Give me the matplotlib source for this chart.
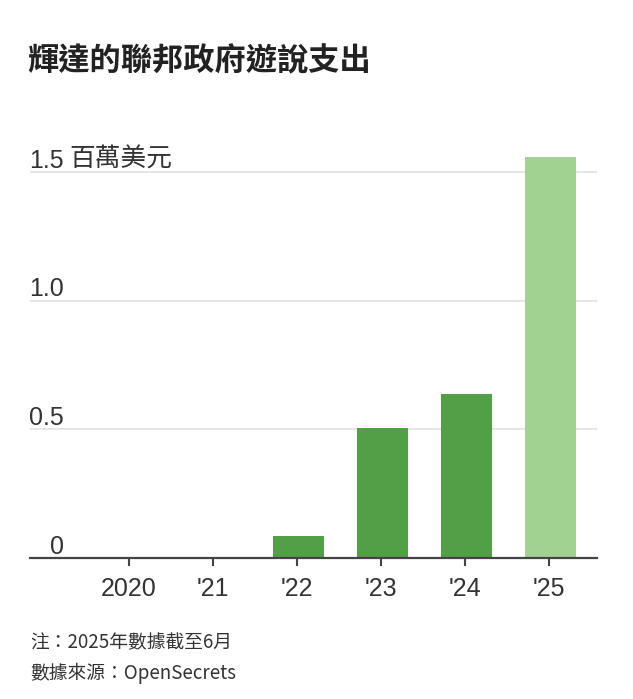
import matplotlib
matplotlib.use("Agg")
import matplotlib.pyplot as plt
from matplotlib import font_manager

years = ["2020", "'21", "'22", "'23", "'24", "'25"]
values = [0.0, 0.0, 0.086, 0.505, 0.637, 1.558]
bar_colors = ["#52a046", "#52a046", "#52a046", "#52a046", "#52a046", "#a2d291"]
ytick_vals = [0, 0.5, 1.0, 1.5]
ytick_labels = ["0", "0.5", "1.0", "1.5"]
unit_label = "百萬美元"
title = "輝達的聯邦政府遊說支出"
note = "注：2025年數據截至6月"
source = "數據來源：OpenSecrets"

names = {f.name for f in font_manager.fontManager.ttflist}
num_font = "Liberation Sans Narrow" if "Liberation Sans Narrow" in names else "Liberation Sans"
cjk = "Noto Sans CJK TC"

W, H = 633, 699
fig = plt.figure(figsize=(W / 100, H / 100), dpi=100)
ax_left, ax_right = 30 / W, 597 / W
ax_bottom = (H - 558) / H
ymax = 1.6
ax_h = ymax * 257.4 / H
ax = fig.add_axes([ax_left, ax_bottom, ax_right - ax_left, ax_h])

x = list(range(len(years)))
ax.bar([i + 0.02 for i in x], values, width=0.61, color=bar_colors, zorder=3)
ax.set_xlim(-1.18, 5.57)
ax.set_ylim(0, ymax)

for v in ytick_vals[1:]:
    ax.axhline(v, color="#e2e2e2", lw=1.2, zorder=1)

for s in ["top", "right", "left"]:
    ax.spines[s].set_visible(False)
ax.spines["bottom"].set_color("#444444")
ax.spines["bottom"].set_linewidth(1.6)
ax.spines["bottom"].set_zorder(4)

ax.set_yticks([])
ax.set_xticks(x)
ax.set_xticklabels(years, fontfamily=num_font, fontsize=18, color="#333333")
ax.tick_params(axis="x", direction="out", length=6, width=1.5, color="#444444", pad=7.5)

for v, lab in zip(ytick_vals, ytick_labels):
    ax.annotate(lab, xy=(64 / W, v), xycoords=("figure fraction", "data"),
                xytext=(0, 3), textcoords="offset points",
                ha="right", va="baseline", fontfamily=num_font, fontsize=18,
                color="#333333")
ax.annotate(unit_label, xy=(69 / W, 1.5), xycoords=("figure fraction", "data"),
            xytext=(0, 3.5), textcoords="offset points",
            ha="left", va="baseline", fontfamily=cjk, fontsize=18.5, color="#333333")

fig.text(27 / W, 1 - 61 / H, title, fontfamily=cjk, fontweight="bold",
         fontsize=22.5, color="#222222", ha="left", va="center")
fig.text(30 / W, 1 - 643 / H, note, fontfamily=cjk, fontsize=13.5,
         color="#333333", ha="left", va="center")
fig.text(30 / W, 1 - 673 / H, source, fontfamily=cjk, fontsize=13.5,
         color="#333333", ha="left", va="center")

fig.savefig("out.png", dpi=100, facecolor="white")
